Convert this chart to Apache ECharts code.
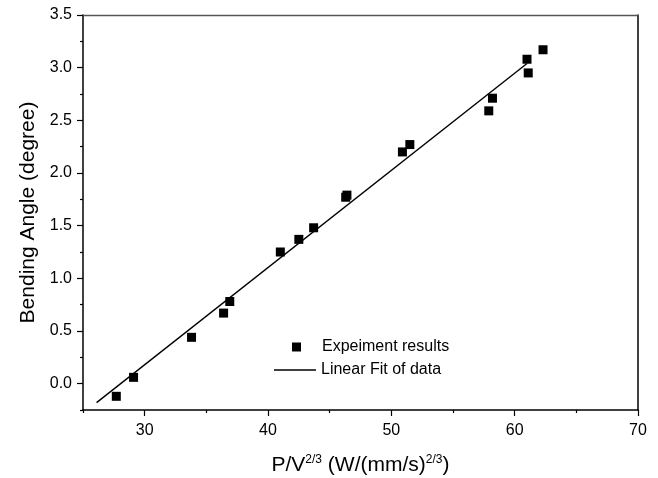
<!DOCTYPE html>
<html>
<head>
<meta charset="utf-8">
<script src="https://cdn.jsdelivr.net/npm/echarts@6/dist/echarts.min.js"></script>
<style>html,body{margin:0;padding:0;background:#fff;}#c{width:658px;height:478px;}</style>
</head>
<body>
<div id="c"></div>
<script>
// Data
const expX = [27.7, 29.1, 33.8, 36.4, 36.9, 41.0, 42.5, 43.7, 46.3, 46.4, 50.9, 51.5, 57.9, 58.2, 61.0, 61.1, 62.3];
const expY = [-0.12, 0.06, 0.44, 0.67, 0.78, 1.25, 1.37, 1.48, 1.77, 1.79, 2.20, 2.27, 2.59, 2.71, 3.08, 2.95, 3.17];
const fitX = [26.1, 61.0];
const fitY = [-0.18, 3.04];
const xMajorTicks = [30, 40, 50, 60, 70];
const xMinorTicks = [25, 35, 45, 55, 65];
const yMajorTicks = [0, 0.5, 1.0, 1.5, 2.0, 2.5, 3.0, 3.5];
const yMinorTicks = [-0.25, 0.25, 0.75, 1.25, 1.75, 2.25, 2.75, 3.25];
const seriesNames = ['Expeiment results', 'Linear Fit of data'];

const FONT = "'Liberation Sans', Arial, sans-serif";
const chart = echarts.init(document.getElementById('c'), null, {renderer: 'canvas'});
const expData = expX.map((x, i) => [x, expY[i]]);
const fitData = fitX.map((x, i) => [x, fitY[i]]);

const hidden = {show: false};
chart.setOption({
  animation: false,
  backgroundColor: '#fff',
  grid: {left: 83, top: 15, right: 20, bottom: 68, containLabel: false, outerBoundsMode: 'none'},
  xAxis: [
    {
      type: 'value', min: 25, max: 70, position: 'bottom',
      axisLine: {show: true, onZero: false, lineStyle: {color: '#000', width: 1.5}},
      axisTick: {show: true, inside: false, length: 6, lineStyle: {color: '#000', width: 1.2}, customValues: xMajorTicks},
      axisLabel: {show: true, customValues: xMajorTicks, color: '#000', fontFamily: FONT, fontSize: 16, margin: 13},
      splitLine: hidden,
      name: '{n|P/V}{s|2/3}{n| (W/(mm/s)}{s|2/3}{n|)}',
      nameLocation: 'middle', nameGap: 44,
      nameTextStyle: {
        rich: {
          n: {fontFamily: FONT, fontSize: 21, color: '#000'},
          s: {fontFamily: FONT, fontSize: 12, color: '#000', padding: [0, 0, 10, 0]}
        }
      }
    },
    {
      type: 'value', min: 25, max: 70, position: 'bottom',
      axisLine: {show: false, onZero: false},
      axisTick: {show: true, inside: false, length: 3, lineStyle: {color: '#000', width: 1.2}, customValues: xMinorTicks},
      axisLabel: hidden, splitLine: hidden
    },
    {
      type: 'value', min: 25, max: 70, position: 'top',
      axisLine: {show: true, onZero: false, lineStyle: {color: '#555', width: 1.3}},
      axisTick: hidden, axisLabel: hidden, splitLine: hidden
    }
  ],
  yAxis: [
    {
      type: 'value', min: -0.25, max: 3.5, position: 'left',
      axisLine: {show: true, onZero: false, lineStyle: {color: '#000', width: 1.5}},
      axisTick: {show: true, inside: false, length: 6, lineStyle: {color: '#000', width: 1.2}, customValues: yMajorTicks},
      axisLabel: {show: true, customValues: yMajorTicks, color: '#000', fontFamily: FONT, fontSize: 16, margin: 11,
        formatter: v => v.toFixed(1)},
      splitLine: hidden,
      name: 'Bending Angle (degree)', nameLocation: 'middle', nameGap: 44, nameRotate: 90,
      nameTextStyle: {fontFamily: FONT, fontSize: 21, color: '#000'}
    },
    {
      type: 'value', min: -0.25, max: 3.5, position: 'left',
      axisLine: {show: false, onZero: false},
      axisTick: {show: true, inside: false, length: 3, lineStyle: {color: '#000', width: 1.2}, customValues: yMinorTicks},
      axisLabel: hidden, splitLine: hidden
    },
    {
      type: 'value', min: -0.25, max: 3.5, position: 'right',
      axisLine: {show: true, onZero: false, lineStyle: {color: '#000', width: 1.5}},
      axisTick: hidden, axisLabel: hidden, splitLine: hidden
    }
  ],
  legend: [
    {
      data: [seriesNames[0]], left: 292, top: 339, padding: 0,
      itemWidth: 9, itemHeight: 9, icon: 'rect',
      itemStyle: {color: '#000', opacity: 1},
      textStyle: {fontFamily: FONT, fontSize: 16, color: '#000', padding: [0, 0, 0, 16]}
    },
    {
      data: [seriesNames[1]], left: 274, top: 362, padding: 0,
      itemWidth: 42, itemHeight: 1.5, icon: 'rect',
      itemStyle: {color: '#000', opacity: 1},
      textStyle: {fontFamily: FONT, fontSize: 16, color: '#000'}
    }
  ],
  series: [
    {
      name: seriesNames[0], type: 'scatter', xAxisIndex: 0, yAxisIndex: 0,
      symbol: 'rect', symbolSize: 9,
      itemStyle: {color: '#000', opacity: 1},
      data: expData, z: 3
    },
    {
      name: seriesNames[1], type: 'line', xAxisIndex: 0, yAxisIndex: 0,
      symbol: 'none', showSymbol: false,
      lineStyle: {color: '#000', width: 1.4},
      itemStyle: {color: '#000'},
      data: fitData, z: 2
    }
  ]
});
</script>
</body>
</html>
